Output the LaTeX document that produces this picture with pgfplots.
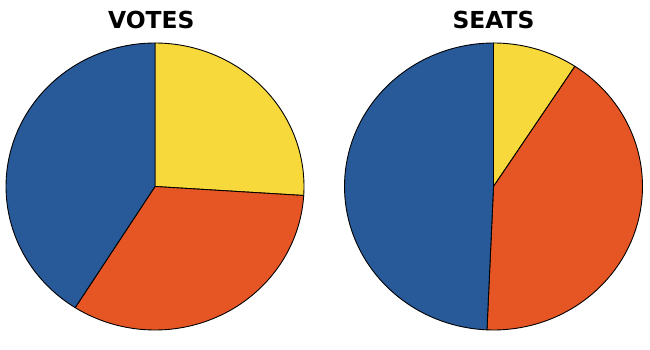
\documentclass[border=0pt]{standalone}
\usepackage{pgfplots}
\pgfplotsset{compat=1.18}
\usepackage{fontspec}
\setmainfont{DejaVu Sans}
\definecolor{pblue}{RGB}{40,90,153}
\definecolor{pyellow}{RGB}{247,217,59}
\definecolor{porange}{RGB}{230,86,36}

% shares in percent (yellow, orange, blue), drawn clockwise from 12 o'clock
\def\VY{26.0}\def\VO{33.0}\def\VB{41.0}
\def\SY{9.2}\def\SO{41.5}\def\SB{49.3}

\newcommand{\pieslices}[3]{%
  \pgfmathsetmacro{\aA}{90}%
  \pgfmathsetmacro{\aB}{90-3.6*#1}%
  \pgfmathsetmacro{\aC}{\aB-3.6*#2}%
  \pgfmathsetmacro{\aD}{\aC-3.6*#3}%
  \addplot[fill=pyellow, draw=black, line width=0.9pt, line join=round, domain=\aB:\aA, samples=80, variable=\t] ({cos(\t)},{sin(\t)}) -- (axis cs:0,0) -- cycle;
  \addplot[fill=porange, draw=black, line width=0.9pt, line join=round, domain=\aC:\aB, samples=80, variable=\t] ({cos(\t)},{sin(\t)}) -- (axis cs:0,0) -- cycle;
  \addplot[fill=pblue, draw=black, line width=0.9pt, line join=round, domain=\aD:\aC, samples=80, variable=\t] ({cos(\t)},{sin(\t)}) -- (axis cs:0,0) -- cycle;
}

\begin{document}
\begin{tikzpicture}
\useasboundingbox (0,0) rectangle (650bp,350bp);
\pgfplotsset{piestyle/.style={hide axis, x=149bp, y=143.5bp, xmin=-1.05, xmax=1.05, ymin=-1.05, ymax=1.05, clip=false, anchor=origin}}
\begin{axis}[piestyle, at={(155bp,163.5bp)}]
  \pieslices{\VY}{\VO}{\VB}
  \node[anchor=base, font=\fontsize{23.5}{25}\selectfont\bfseries, inner sep=0pt] at (axis cs:-0.025,1.0976) {VOTES};
\end{axis}
\begin{axis}[piestyle, at={(493.5bp,163.5bp)}]
  \pieslices{\SY}{\SO}{\SB}
  \node[anchor=base, font=\fontsize{23.5}{25}\selectfont\bfseries, inner sep=0pt] at (axis cs:0,1.0976) {SEATS};
\end{axis}
\end{tikzpicture}
\end{document}
